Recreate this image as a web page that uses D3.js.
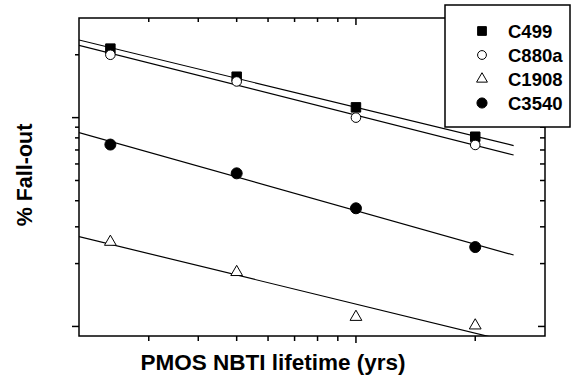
<!DOCTYPE html>
<html>
<head>
<meta charset="utf-8">
<script src="https://cdn.jsdelivr.net/npm/d3@7"></script>
<style>
    body { margin: 0; background: #fff; }
    text { font-family: Arial, "Liberation Sans", sans-serif; font-weight: bold; }
</style>
</head>
<body>
<div id="ChartContainer"></div>
<script>
// Lifetime (yrs) for each circuit measurement
const lifetimes = [2.4, 5, 10, 20];

// % fall-out per circuit
const c499 = [2.14, 1.57, 1.12, 0.81];
const c880a = [2.0, 1.49, 1.0, 0.74];
const c1908 = [0.254, 0.182, 0.111, 0.101];
const c3540 = [0.743, 0.541, 0.368, 0.240];

const seriesNames = ["C499", "C880a", "C1908", "C3540"];
const seriesValues = [c499, c880a, c1908, c3540];

// Axis ticks (no labels are printed on the original)
const xTicks = [3, 4, 5, 6, 7, 8, 9, 10, 20];
const xMajor = [10];
const yTicks = [0.1, 0.2, 0.3, 0.4, 0.5, 0.6, 0.7, 0.8, 0.9, 1, 2];
const yMajor = [0.1, 1];

// Fit line range
const fitRange = [2, 25];

const width = 571;
const height = 377;
const margin = { top: 18, right: 26, bottom: 41, left: 79 };

const svg = d3.select("#ChartContainer")
    .append("svg")
    .attr("width", width)
    .attr("height", height);

// Log scales on both axes
const xScale = d3.scaleLog()
    .domain([2, 30])
    .range([margin.left, width - margin.right]);

const yScale = d3.scaleLog()
    .domain([0.09, 3])
    .range([height - margin.bottom, margin.top]);

const x0 = xScale.range()[0], x1 = xScale.range()[1];
const y0 = yScale.range()[0], y1 = yScale.range()[1];

// Clip path for fit lines
svg.append("defs").append("clipPath")
    .attr("id", "clip")
    .append("rect")
    .attr("x", x0)
    .attr("y", y1)
    .attr("width", x1 - x0)
    .attr("height", y0 - y1);

// Least squares fit in log-log space
function fitLine(xs, ys) {
    const lx = xs.map(Math.log10);
    const ly = ys.map(Math.log10);
    const mx = d3.mean(lx), my = d3.mean(ly);
    let sxy = 0, sxx = 0;
    lx.forEach((v, i) => {
        sxy += (v - mx) * (ly[i] - my);
        sxx += (v - mx) * (v - mx);
    });
    const slope = sxy / sxx;
    return x => Math.pow(10, my + slope * (Math.log10(x) - mx));
}

const lines = svg.append("g").attr("clip-path", "url(#clip)");
seriesValues.forEach(values => {
    const f = fitLine(lifetimes, values);
    lines.append("path")
        .datum(fitRange)
        .attr("fill", "none")
        .attr("stroke", "#000")
        .attr("stroke-width", 1.2)
        .attr("d", d3.line()
            .x(d => xScale(d))
            .y(d => yScale(f(d)))
        );
});

// Marker shapes
const symbols = [
    { type: d3.symbolSquare, size: 90, fill: "#000" },
    { type: d3.symbolCircle, size: 72, fill: "#fff" },
    { type: d3.symbolTriangle, size: 60, fill: "#fff" },
    { type: d3.symbolCircle, size: 95, fill: "#000" }
];

seriesValues.forEach((values, i) => {
    const s = symbols[i];
    svg.append("g")
        .selectAll("path")
        .data(values)
        .enter().append("path")
        .attr("transform", (d, j) => `translate(${xScale(lifetimes[j])},${yScale(d)})`)
        .attr("d", d3.symbol().type(s.type).size(s.size))
        .attr("fill", s.fill)
        .attr("stroke", "#000")
        .attr("stroke-width", 1);
});

// Axes: outward ticks on left/bottom, inward mirrored ticks on right/top
function tickLen(list, v, major, minor) {
    return list.includes(v) ? major : minor;
}

const axisG = svg.append("g").attr("stroke", "#000").attr("stroke-width", 1.5);

xTicks.forEach(v => {
    const x = xScale(v);
    axisG.append("line").attr("x1", x).attr("x2", x)
        .attr("y1", y0).attr("y2", y0 + tickLen(xMajor, v, 7, 5));
    axisG.append("line").attr("x1", x).attr("x2", x)
        .attr("y1", y1).attr("y2", y1 + tickLen(xMajor, v, 7, 4));
});

yTicks.forEach(v => {
    const y = yScale(v);
    axisG.append("line").attr("x1", x0).attr("x2", x0 - tickLen(yMajor, v, 7, 4))
        .attr("y1", y).attr("y2", y);
    axisG.append("line").attr("x1", x1).attr("x2", x1 - tickLen(yMajor, v, 7, 5))
        .attr("y1", y).attr("y2", y);
});

axisG.append("rect")
    .attr("x", x0)
    .attr("y", y1)
    .attr("width", x1 - x0)
    .attr("height", y0 - y1)
    .attr("fill", "none");

// Axis titles
svg.append("text")
    .attr("x", 273)
    .attr("y", 370)
    .attr("text-anchor", "middle")
    .style("font-size", "22.5px")
    .text("PMOS NBTI lifetime (yrs)");

svg.append("text")
    .attr("transform", "translate(32,175) rotate(-90)")
    .attr("text-anchor", "middle")
    .style("font-size", "21.5px")
    .text("% Fall-out");

// Legend
const legend = svg.append("g");
legend.append("rect")
    .attr("x", 445)
    .attr("y", 5)
    .attr("width", 125)
    .attr("height", 122)
    .attr("fill", "#fff")
    .attr("stroke", "#000")
    .attr("stroke-width", 1.5);

seriesNames.forEach((name, i) => {
    const s = symbols[i];
    const cy = 31 + i * 24;
    legend.append("path")
        .attr("transform", `translate(482,${cy})`)
        .attr("d", d3.symbol().type(s.type).size(s.size * 0.85))
        .attr("fill", s.fill)
        .attr("stroke", "#000")
        .attr("stroke-width", 1);
    legend.append("text")
        .attr("x", 508)
        .attr("y", cy + 6.5)
        .style("font-size", "18.5px")
        .text(name);
});
</script>
</body>
</html>
